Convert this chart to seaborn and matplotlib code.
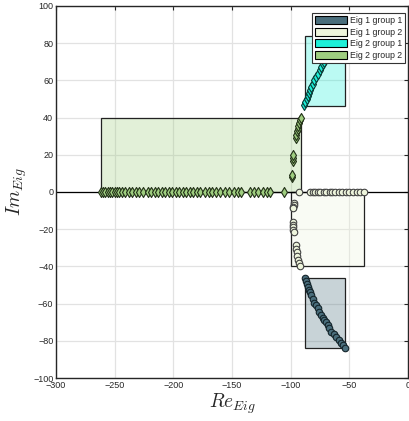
import numpy as np
import pandas as pd
import matplotlib
matplotlib.use("Agg")
import matplotlib.pyplot as plt
from matplotlib.patches import Rectangle, Patch
import seaborn as sns

sns.set_style("whitegrid")
plt.rcParams['font.family'] = ['Liberation Sans', 'DejaVu Sans']
plt.rcParams['mathtext.fontset'] = 'cm'

eig1_g1_re = [-88.1, -87.2, -86.4, -85.6, -84.6, -83.7, -82.7, -81.3, -79.9, -78.5, -77.1, -75.6,
              -74.2, -72.8, -71.4, -70.0, -68.6, -67.1, -65.7, -63.6, -61.5, -59.3, -57.2, -55.5, -54.0]
eig1_g1_im = [-46.0, -47.8, -49.5, -51.0, -52.6, -54.0, -55.4, -57.5, -59.5, -61.0, -62.5, -64.4,
              -66.1, -67.5, -68.8, -70.1, -71.5, -73.3, -75.1, -76.5, -77.8, -79.4, -81.0, -82.4, -83.7]

eig1_g2_re = [-97.6, -97.6, -97.7, -97.8, -98.2, -98.2, -98.0, -97.8, -97.6,
              -95.8, -95.4, -94.9, -94.3, -93.6, -92.8, -92.0, -93.3,
              -84, -81, -79, -77, -75, -72, -70, -67, -65, -62, -59, -56, -53, -50, -47, -44, -41, -38]
eig1_g2_im = [-6.0, -7.0, -8.0, -8.8, -16.0, -17.5, -19.0, -20.5, -21.5,
              -28.5, -30.5, -32.5, -34.5, -36.5, -38.3, -39.8, 0.0,
              0, 0, 0, 0, 0, 0, 0, 0, 0, 0, 0, 0, 0, 0, 0, 0, 0, 0]

eig2_g1_re = [-88.4, -87.5, -86.6, -85.7, -84.7, -83.7, -82.6, -81.3, -79.9, -78.5, -77.0, -75.5,
              -74.1, -72.8, -71.4, -70.0, -68.6, -67.1, -65.7, -63.6, -61.5, -59.3, -57.2, -55.5, -54.0]
eig2_g1_im = [46.8, 48.5, 50.2, 51.8, 53.3, 54.8, 56.3, 58.2, 60.0, 61.8, 63.5, 65.5,
              67.3, 69.0, 70.0, 71.2, 72.5, 74.0, 75.5, 77.0, 78.3, 79.8, 81.2, 82.6, 83.8]

eig2_g2_re = [-262, -260, -258, -256, -254, -252, -250, -248, -246, -244, -241, -238, -235, -232,
              -229, -226, -222, -219, -216, -213, -210, -207, -204, -201, -198, -195, -192, -189,
              -186, -183, -180, -177, -173, -170, -167, -164, -160, -156, -153, -148, -145, -142,
              -135, -131, -128, -124, -120, -118, -106,
              -99.2, -99.0, -98.4, -98.3, -98.2, -95.8, -95.5, -94.8, -94.1, -93.5, -92.6, -91.8, -91.0]
eig2_g2_im = [0] * 49 + [8.2, 9.0, 16.5, 18.0, 19.8, 29.0, 30.5, 32.5, 33.8, 35.3, 37.0, 38.5, 40.0]

# bounding boxes of each group: (x0, x1, y0, y1)
box_eig1_g1 = [-88, -54, -84, -46]
box_eig1_g2 = [-100, -38, -40, 0]
box_eig2_g1 = [-88, -54, 46, 84]
box_eig2_g2 = [-262, -91, 0, 40]

labels = ['Eig 1 group 1', 'Eig 1 group 2', 'Eig 2 group 1', 'Eig 2 group 2']
colors = ['#4a6e7c', '#eef5dc', '#1ef0d8', '#9fce80']
edges = ['#14242a', '#444444', '#0a3a35', '#223018']
markers = ['o', 'o', 'd', 'd']
sizes = [22, 22, 26, 26]

groups = [(eig1_g1_re, eig1_g1_im, box_eig1_g1),
          (eig1_g2_re, eig1_g2_im, box_eig1_g2),
          (eig2_g1_re, eig2_g1_im, box_eig2_g1),
          (eig2_g2_re, eig2_g2_im, box_eig2_g2)]

fig = plt.figure(figsize=(4.09, 4.21), dpi=100)
ax = fig.add_axes([0.137, 0.102, 0.861, 0.884])

for (re, im, box), c, ec, m, s in zip(groups, colors, edges, markers, sizes):
    ax.add_patch(Rectangle((box[0], box[2]), box[1] - box[0], box[3] - box[2],
                           facecolor=c, alpha=0.3, edgecolor='none', zorder=1))
    ax.add_patch(Rectangle((box[0], box[2]), box[1] - box[0], box[3] - box[2],
                           facecolor='none', edgecolor='#222222', lw=0.9, zorder=2))
    df = pd.DataFrame({'re': re, 'im': im})
    sns.scatterplot(data=df, x='re', y='im', ax=ax, color=c, marker=m, s=s,
                    edgecolor=ec, linewidth=0.8, zorder=3, legend=False)

ax.axhline(0, color='black', lw=0.9, zorder=2)

ax.set_xlim(-300, 0)
ax.set_ylim(-100, 100)
ax.set_xticks(np.arange(-300, 1, 50))
ax.set_yticks(np.arange(-100, 101, 20))
ax.grid(True, color='#e2e2e2', lw=0.9)
for sp in ax.spines.values():
    sp.set_color('#262626')
    sp.set_linewidth(1.0)
ax.tick_params(direction='in', length=3, width=0.8, color='#262626', labelsize=6.5,
               labelcolor='#262626', top=True, right=True, pad=2)

ax.set_xlabel('$Re_{Eig}$', fontsize=14, labelpad=1)
ax.set_ylabel('$Im_{Eig}$', fontsize=14, labelpad=3)

handles = [Patch(facecolor=c, edgecolor='black', lw=0.8) for c in colors]
leg = ax.legend(handles, labels, loc='upper right', bbox_to_anchor=(0.991, 0.981),
                borderaxespad=0, fontsize=6.3, frameon=True, fancybox=False, framealpha=1,
                edgecolor='#333333', handlelength=3.6, handleheight=1.05, labelspacing=0.3,
                handletextpad=0.3, borderpad=0.35)
leg.get_frame().set_linewidth(0.8)
leg.set_zorder(5)

fig.savefig('out.png', dpi=100)
